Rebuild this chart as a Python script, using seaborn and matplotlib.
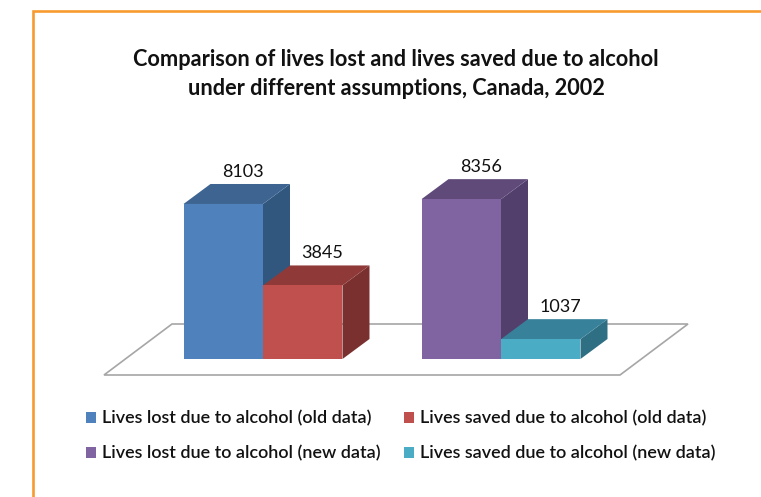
import matplotlib
matplotlib.use("Agg")
import matplotlib.pyplot as plt
import pandas as pd
import seaborn as sns
from matplotlib.patches import Patch, Polygon
from matplotlib.lines import Line2D

periods = ["Old data", "New data"]
kinds = ["Lost", "Saved"]
lost_values = [8103, 8356]
saved_values = [3845, 1037]
series_labels = [
    "Lives lost due to alcohol (old data)",
    "Lives saved due to alcohol (old data)",
    "Lives lost due to alcohol (new data)",
    "Lives saved due to alcohol (new data)",
]
front_colors = ["#4F81BD", "#C0504D", "#8064A2", "#4BACC6"]
top_colors = ["#3E6592", "#8F3A38", "#5F4A7A", "#37829A"]
side_colors = ["#32577F", "#7A302E", "#533F6B", "#2F6F84"]
title_text = "Comparison of lives lost and lives saved due to alcohol\nunder different assumptions, Canada, 2002"

W, H = 761, 497
FONT = ["Lato", "DejaVu Sans"]
sns.set_theme(style="white")
plt.rcParams["font.family"] = FONT

fig = plt.figure(figsize=(W / 100, H / 100), dpi=100, facecolor="white")

# Axes box in pixels: one category spans 238 px, one value unit spans 0.01913 px.
PX_PER_CAT = 238
PX_PER_VAL = 0.01913
left_px, base_px = 144, 359
ymax = 9000
ax = fig.add_axes([left_px / W, 1 - base_px / H,
                   2 * PX_PER_CAT / W, ymax * PX_PER_VAL / H])

frame = pd.DataFrame({
    "period": periods * 2,
    "kind": [kinds[0]] * 2 + [kinds[1]] * 2,
    "value": lost_values + saved_values,
})
sns.barplot(data=frame, x="period", y="value", hue="kind", order=periods,
            hue_order=kinds, width=0.668, legend=False, ax=ax,
            saturation=1, gap=0)
ax.set_xlim(-0.5, 1.5)
ax.set_ylim(0, ymax)
ax.axis("off")
bars = sorted(list(ax.patches), key=lambda p: p.get_x())


def px(x, y):
    """Convert figure pixels (origin top-left) to data coordinates."""
    return ((x - left_px) / PX_PER_CAT - 0.5, (base_px - y) / PX_PER_VAL)


# Floor of the 3-D chart
floor = [px(104, 375), px(620, 375), px(688, 324), px(172, 324)]
ax.add_patch(Polygon(floor, closed=True, facecolor="white", edgecolor="#A6A6A6",
                     lw=1.2, zorder=1, clip_on=False))

# Extruded side and top faces, sharing the depth of every bar
depth_x = 27 / PX_PER_CAT
depth_y = 20 / PX_PER_VAL
for i, bar in enumerate(bars):
    x0, x1 = bar.get_x(), bar.get_x() + bar.get_width()
    h = bar.get_height()
    z = 3 + i
    bar.set_facecolor(front_colors[i])
    bar.set_edgecolor("none")
    bar.set_zorder(z + 0.2)
    ax.add_patch(Polygon([(x1, 0), (x1 + depth_x, depth_y), (x1 + depth_x, h + depth_y), (x1, h)],
                         closed=True, facecolor=side_colors[i], edgecolor="none",
                         zorder=z, clip_on=False))
    ax.add_patch(Polygon([(x0, h), (x1, h), (x1 + depth_x, h + depth_y), (x0 + depth_x, h + depth_y)],
                         closed=True, facecolor=top_colors[i], edgecolor="none",
                         zorder=z + 0.1, clip_on=False))
    ax.annotate(f"{int(h)}", xy=((x0 + x1) / 2, h), xytext=(19.5, 32),
                textcoords="offset pixels", ha="center", va="center",
                fontsize=13, color="#111111", zorder=10, annotation_clip=False)

fig.text(396 / W, 1 - 74 / H, title_text, ha="center", va="center",
         fontsize=15.7, fontweight="bold", color="#111111", linespacing=1.42)

# Legend fills column by column, so reorder to read across the rows
order = [0, 2, 1, 3]
handles = [Patch(facecolor=front_colors[i], edgecolor="none") for i in order]
labels = [series_labels[i] for i in order]
fig.legend(handles, labels, ncols=2, loc="upper left",
           bbox_to_anchor=(70 / W, 1 - 394 / H), frameon=False,
           handlelength=0.55, handleheight=0.55, handletextpad=0.3,
           columnspacing=1.33, labelspacing=1.05, labelcolor="#111111",
           prop={"family": FONT, "size": 13, "weight": "semibold"})

# Orange page frame along the top and left edges
frame_color = "#F79B2E"
fig.add_artist(Line2D([33 / W, 33 / W, 1], [0, 1 - 10.5 / H, 1 - 10.5 / H],
                      color=frame_color, lw=1.9, solid_joinstyle="miter",
                      transform=fig.transFigure))

fig.savefig("out.png", dpi=100, facecolor="white")
